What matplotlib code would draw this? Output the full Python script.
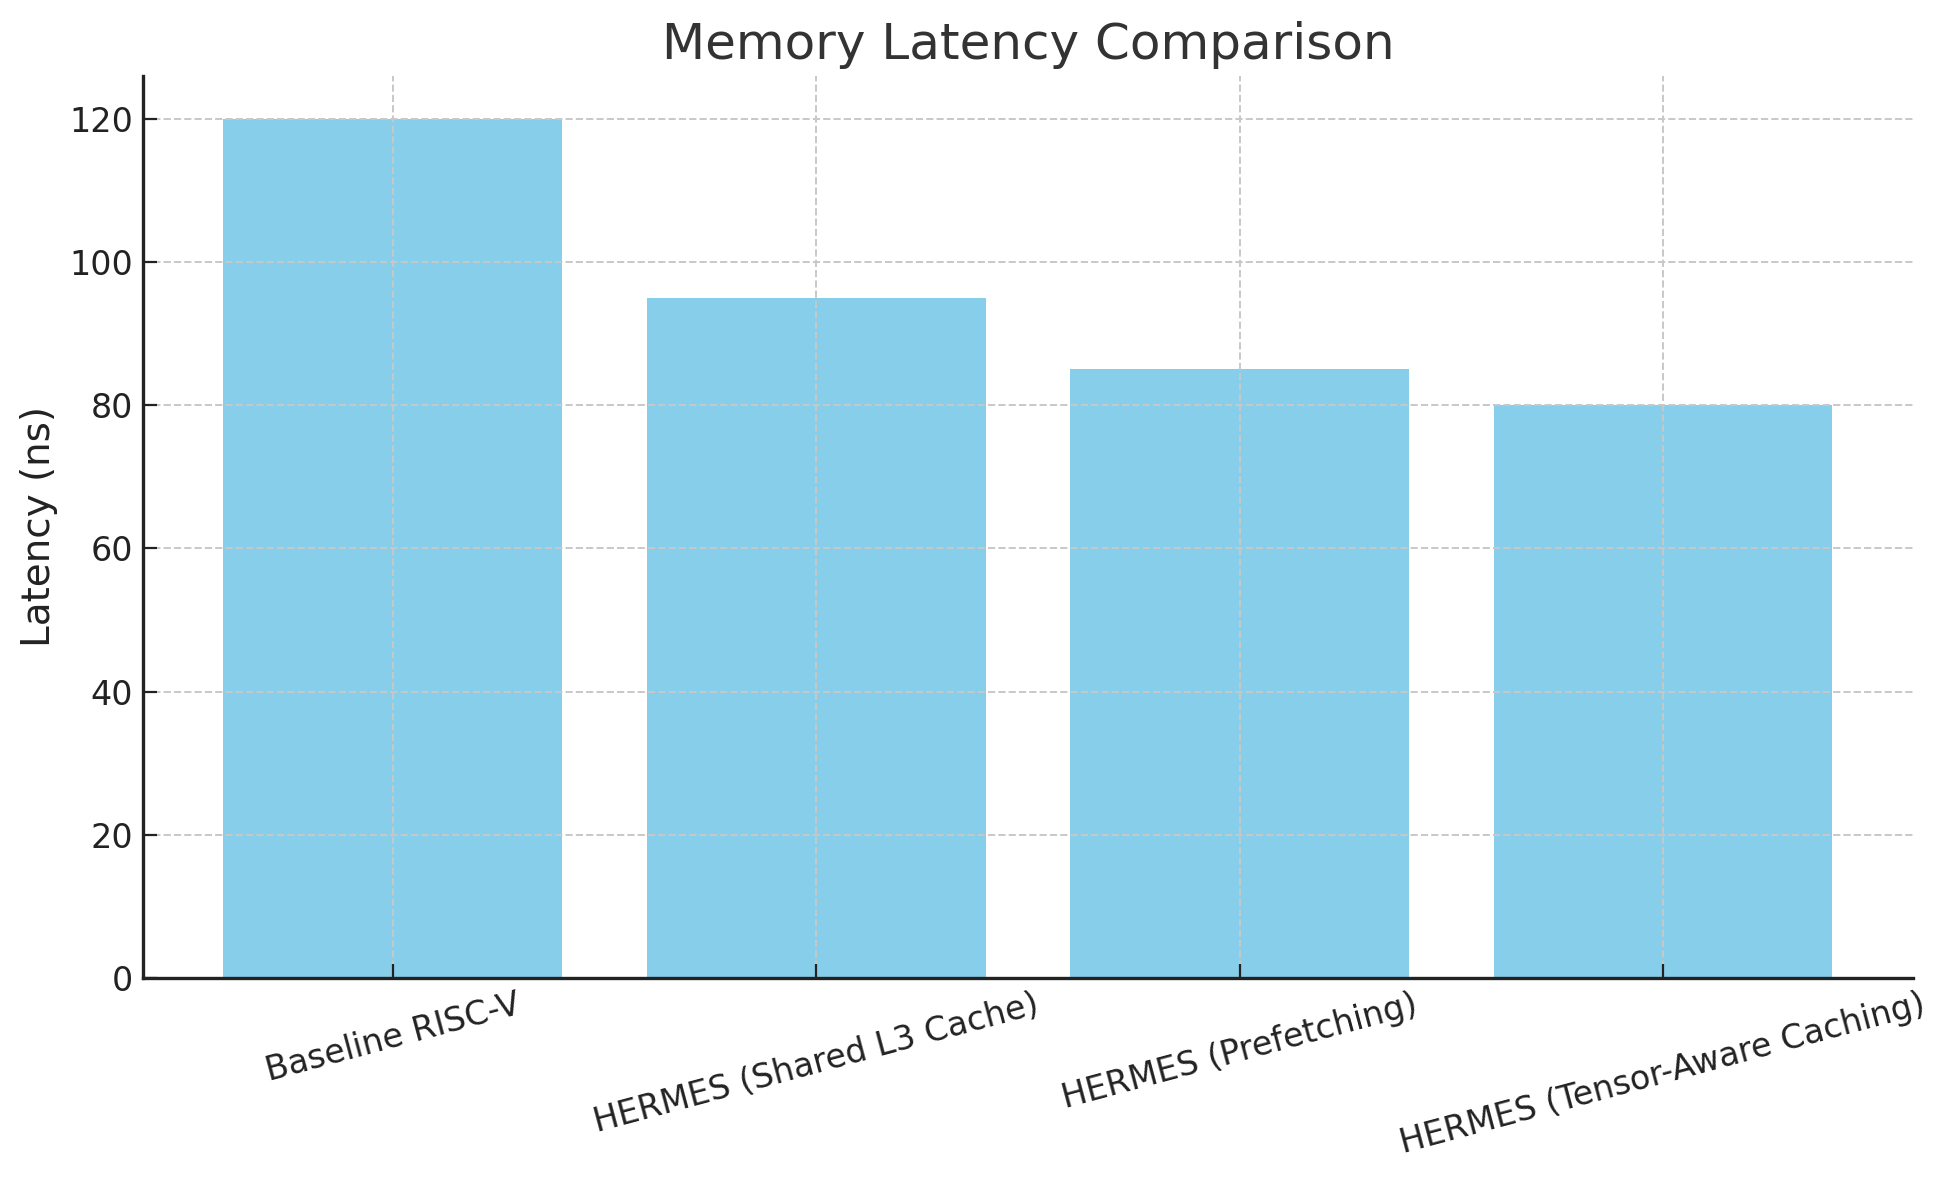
import matplotlib
matplotlib.use('Agg')
import matplotlib.pyplot as plt

systems = ['Baseline RISC-V', 'HERMES (Shared L3 Cache)', 'HERMES (Prefetching)',
           'HERMES (Tensor-Aware Caching)']
latency = [120, 95, 85, 80]

fig, ax = plt.subplots(figsize=(9.74, 5.9), dpi=200)
fig.subplots_adjust(left=0.0734, right=0.982, top=0.936, bottom=0.171)

ax.bar(systems, latency, color='skyblue', width=0.8)
ax.set_title('Memory Latency Comparison', fontsize=18, color='#333333')
ax.set_ylabel('Latency (ns)', fontsize=14, color='#222222')

ax.grid(True, linestyle='--', color='#c8c8c8', linewidth=0.7)
ax.spines['top'].set_visible(False)
ax.spines['right'].set_visible(False)
for s in ['left', 'bottom']:
    ax.spines[s].set_linewidth(1.2)
    ax.spines[s].set_color('#222222')

ax.tick_params(axis='both', direction='in', labelsize=12, colors='#222222', length=5)
plt.setp(ax.get_xticklabels(), rotation=15)

fig.savefig('out.png', dpi=200)
